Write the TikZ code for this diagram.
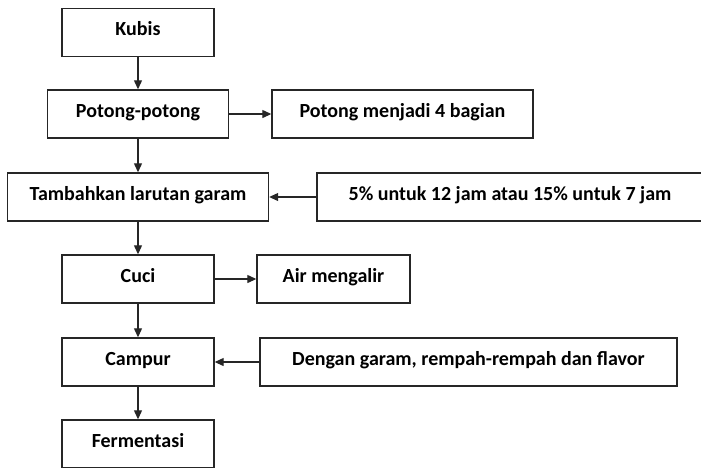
\documentclass[tikz,border=0pt]{standalone}
\usepackage{fontspec}
\setmainfont{Carlito}
\usetikzlibrary{arrows.meta}
\begin{document}
\begin{tikzpicture}[x=1pt,y=-1pt,
  box/.style={draw=black!85, line width=1.4pt, rectangle, inner sep=0pt,
    minimum height=48pt, text height=17pt, text depth=11pt,
    font=\fontsize{20}{24}\selectfont\bfseries},
  arr/.style={-{Triangle[length=9pt,width=8pt]}, line width=1.2pt, draw=black!85}]
  \useasboundingbox (0,0) rectangle (701,467);
  \clip (0,0) rectangle (701,467);

  %Main steps
  \node[box, minimum width=152pt] (Kubis) at (138,32.5) {Kubis};
  \node[box, minimum width=181pt] (Potong) at (138,114) {Potong-potong};
  \node[box, minimum width=261pt] (Tambah) at (138,197) {Tambahkan larutan garam};
  \node[box, minimum width=152pt] (Cuci) at (138,279) {Cuci};
  \node[box, minimum width=152pt] (Campur) at (138,362) {Campur};
  \node[box, minimum width=152pt] (Fermen) at (138,444) {Fermentasi};

  %Side notes
  \node[box, minimum width=261pt] (Bagian) at (402.5,114) {Potong menjadi 4 bagian};
  \node[box, minimum width=386pt] (Garam) at (510,197) {5\% untuk 12 jam atau 15\% untuk 7 jam};
  \node[box, minimum width=153pt] (Air) at (333.5,279) {Air mengalir};
  \node[box, minimum width=417pt] (Rempah) at (468.5,362) {Dengan garam, rempah-rempah dan flavor};

  \draw[arr] (Kubis) -- (Potong);
  \draw[arr] (Potong) -- (Tambah);
  \draw[arr] (Tambah) -- (Cuci);
  \draw[arr] (Cuci) -- (Campur);
  \draw[arr] (Campur) -- (Fermen);
  \draw[arr] (Potong) -- (Bagian);
  \draw[arr] (Garam) -- (Tambah);
  \draw[arr] (Cuci) -- (Air);
  \draw[arr] (Rempah) -- (Campur);
\end{tikzpicture}
\end{document}
